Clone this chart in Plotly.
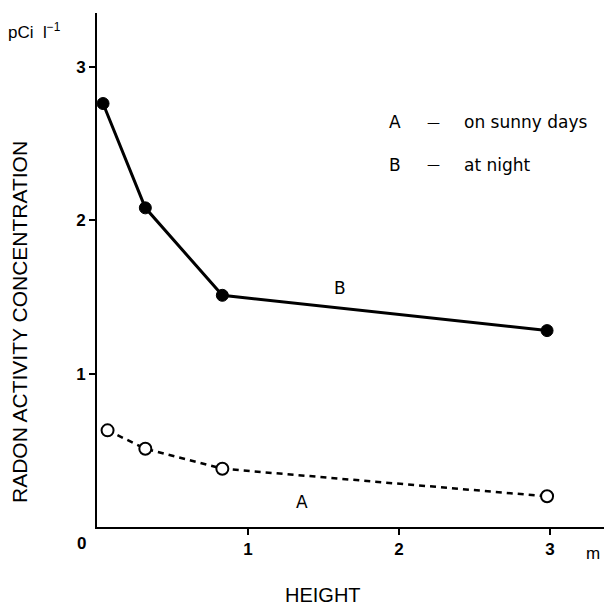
import plotly.graph_objects as go

# Height above ground (m) and radon activity concentration (pCi l^-1)
height_night = [0.04, 0.32, 0.83, 2.98]
conc_night = [2.76, 2.08, 1.51, 1.28]
height_sunny = [0.07, 0.32, 0.83, 2.98]
conc_sunny = [0.63, 0.51, 0.38, 0.20]

x_ticks = [1, 2, 3]
y_ticks = [1, 2, 3]

FONT = "Liberation Sans, Arial, sans-serif"
LEG_FONT = "DejaVu Sans, sans-serif"

W = H = 605
ML, MR, MT, MB = 97, 1, 13, 78
PW, PH = W - ML - MR, H - MT - MB


def px(xp, yp):
    """Pixel position on the page -> paper coordinates of the plot area."""
    return (xp - ML) / PW, (H - MB - yp) / PH


fig = go.Figure()

fig.add_trace(go.Scatter(
    x=height_night, y=conc_night, mode="lines+markers",
    line=dict(color="black", width=3),
    marker=dict(size=12, color="black", line=dict(color="black", width=1)),
    showlegend=False, cliponaxis=False,
))
fig.add_trace(go.Scatter(
    x=height_sunny, y=conc_sunny, mode="lines+markers",
    line=dict(color="black", width=2.5, dash="6px,5px"),
    marker=dict(size=12, color="white", line=dict(color="black", width=2)),
    showlegend=False, cliponaxis=False,
))


def note(xp, yp, text, size=16, family=LEG_FONT, anchor="center", angle=0):
    x, y = px(xp, yp)
    return dict(x=x, y=y, xref="paper", yref="paper", xanchor=anchor, yanchor="middle",
                text=text, textangle=angle, showarrow=False,
                font=dict(size=size, family=family, color="black"))


annotations = [
    dict(x=1.36, y=0.16, xref="x", yref="y", text="A", showarrow=False,
         font=dict(size=17, family=LEG_FONT, color="black")),
    dict(x=1.61, y=1.56, xref="x", yref="y", text="B", showarrow=False,
         font=dict(size=17, family=LEG_FONT, color="black")),
    note(81, 543, "<b>0</b>", size=17, family=FONT),
    note(593, 553, "m", size=17, family=FONT),
    note(323, 595, "HEIGHT", size=20, family=FONT),
    note(19, 322, "RADON ACTIVITY CONCENTRATION", size=21, family=FONT, angle=-90),
    note(6, 31, "pCi  l<sup>−1</sup>", size=17, family=FONT, anchor="left"),
]
legend_rows = [("A", "on sunny days", 122), ("B", "at night", 165)]
for key, desc, ypix in legend_rows:
    annotations.append(note(395, ypix, key, size=17))
    annotations.append(note(433, ypix, "—", size=13))
    annotations.append(note(462, ypix, desc, size=17, anchor="left"))

fig.update_layout(
    width=W, height=H,
    margin=dict(l=ML, r=MR, t=MT, b=MB),
    paper_bgcolor="white", plot_bgcolor="white",
    annotations=annotations,
    xaxis=dict(range=[0, 3.357], tickvals=x_ticks, ticktext=[f"<b>{v}</b>" for v in x_ticks],
               ticks="outside", ticklen=6, tickwidth=2, tickcolor="black",
               showline=True, linecolor="black", linewidth=2, showgrid=False,
               zeroline=False, tickfont=dict(size=17, family=FONT, color="black")),
    yaxis=dict(range=[0, 3.35], tickvals=y_ticks, ticktext=[f"<b>{v}</b>" for v in y_ticks],
               ticks="outside", ticklen=6, tickwidth=2, tickcolor="black",
               showline=True, linecolor="black", linewidth=2, showgrid=False,
               zeroline=False, tickfont=dict(size=17, family=FONT, color="black")),
)

fig.write_html("out.html")
